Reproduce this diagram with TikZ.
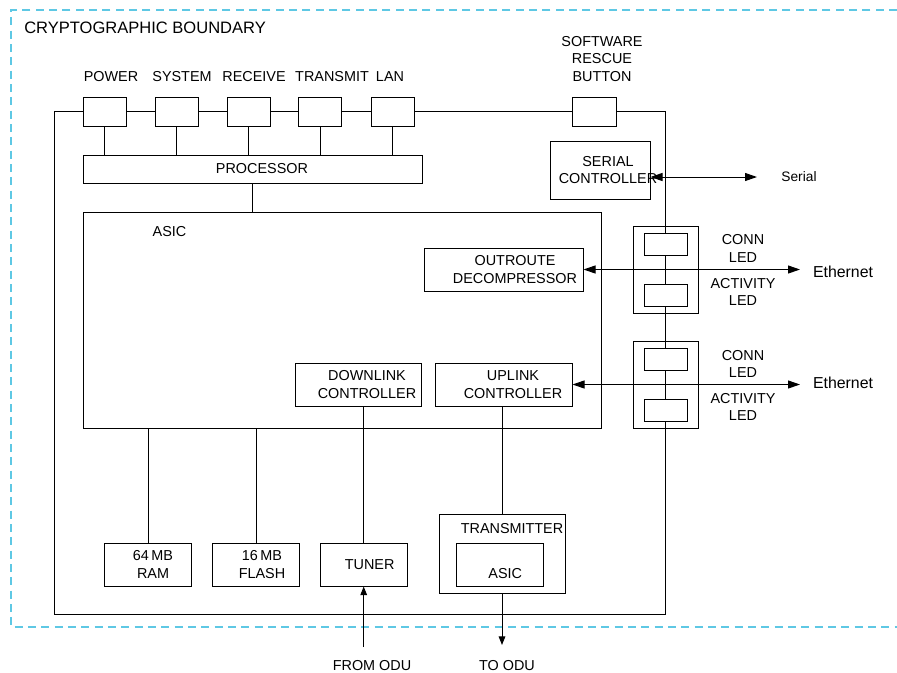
\documentclass[tikz,border=0pt]{standalone}
\usepackage{fontspec}
\setmainfont{Liberation Sans}
\usepackage{tikz}
\usetikzlibrary{arrows.meta,calc}
\definecolor{bndcyan}{RGB}{94,200,228}
\newlength{\px}\setlength{\px}{0.75pt}
\tikzstyle{blk}=[draw, rectangle, inner sep=0pt, line width=0.75pt]
\tikzstyle{wblk}=[blk, fill=white]
\tikzstyle{txt}=[font=\fontsize{10.8}{13}\selectfont, align=center, inner sep=0pt]
\tikzstyle{lnk}=[line width=0.75pt]
\tikzstyle{harr}=[line width=0.75pt, {Triangle[length=9pt,width=6pt]}-{Triangle[length=9pt,width=6pt]}]
\tikzstyle{varr}=[line width=0.75pt, -{Triangle[length=6.5pt,width=5pt]}]
\tikzstyle{bound}=[dash pattern=on 6pt off 4pt, draw=bndcyan, line width=1pt]

\begin{document}
\begin{tikzpicture}[x=0.75pt,y=-0.75pt]
\useasboundingbox (0,0) rectangle (897,672);
% boundary
\draw[bound] (897,10) -| (11,627) -- (897,627);
\node[txt, font=\fontsize{12.4}{15}\selectfont, anchor=west] (title) at (24,28) {CRYPTOGRAPHIC BOUNDARY};

% front panel leds
\node[blk, minimum width=43\px, minimum height=29\px] (pwr) at (104.5,111.5) {};
\node[blk, minimum width=43\px, minimum height=29\px] (sys) at (176.5,111.5) {};
\node[blk, minimum width=43\px, minimum height=29\px] (rcv) at (248.5,111.5) {};
\node[blk, minimum width=43\px, minimum height=29\px] (xmt) at (320,111.5) {};
\node[blk, minimum width=43\px, minimum height=29\px] (lan) at (392.5,111.5) {};
\node[blk, minimum width=44\px, minimum height=29\px] (rsq) at (594,111.5) {};
\node[txt] (pwrlbl) at (111,77) {POWER};
\node[txt] (syslbl) at (182,77) {SYSTEM};
\node[txt] (rcvlbl) at (254,77) {RECEIVE};
\node[txt] (xmtlbl) at (332,77) {TRANSMIT};
\node[txt] (lanlbl) at (390,77) {LAN};
\node[txt] (rsqlbl) at (602,59) {SOFTWARE\\RESCUE\\BUTTON};

% chassis outline
\coordinate (ctl) at (54,111.5);
\coordinate (cbr) at (665,614);
\draw[lnk] (pwr.west) -- (ctl) |- (cbr) |- (rsq.east);
\draw[lnk] (pwr.east) -- (sys.west);
\draw[lnk] (sys.east) -- (rcv.west);
\draw[lnk] (rcv.east) -- (xmt.west);
\draw[lnk] (xmt.east) -- (lan.west);
\draw[lnk] (lan.east) -- (rsq.west);

% processor and asic
\node[blk, minimum width=339\px, minimum height=28\px,
  label={[txt,xshift=9.5\px]center:PROCESSOR}] (proc) at (252.5,169) {};
\foreach \led in {pwr,sys,rcv,xmt,lan}
  \draw[lnk] (\led.south) -- (\led.south |- proc.north);
\node[blk, minimum width=518\px, minimum height=216\px] (asic) at (342,320) {};
\node[txt] (asiclbl) at (169.5,232) {ASIC};
\draw[lnk] (proc.south) -- (proc.south |- asic.north);

\node[blk, minimum width=159\px, minimum height=43\px,
  label={[txt,xshift=11.5\px]center:OUTROUTE\\DECOMPRESSOR}] (outr) at (503.5,269.5) {};
\node[blk, minimum width=126\px, minimum height=43\px,
  label={[txt,xshift=9\px]center:DOWNLINK\\CONTROLLER}] (dl) at (358,384.5) {};
\node[blk, minimum width=137\px, minimum height=43\px,
  label={[txt,xshift=9.5\px]center:UPLINK\\CONTROLLER}] (ul) at (503.5,384.5) {};

% serial
\node[blk, minimum width=100\px, minimum height=58\px,
  label={[txt,xshift=8\px]center:SERIAL\\CONTROLLER}] (ser) at (600,170) {};
\coordinate (serend) at (757,177);
\node[txt, font=\fontsize{10.3}{12}\selectfont] (serlbl) at (799,177) {Serial};
\draw[harr] (ser.east |- serend) -- (serend);

% ethernet ports
\node[blk, minimum width=65\px, minimum height=87\px] (eth1) at (665.5,269.5) {};
\node[blk, minimum width=65\px, minimum height=87\px] (eth2) at (665.5,384.5) {};
\node[wblk, minimum width=43\px, minimum height=22\px] (conn1) at (665.5,244.5) {};
\node[wblk, minimum width=43\px, minimum height=22\px] (act1) at (665.5,295) {};
\node[wblk, minimum width=43\px, minimum height=22\px] (conn2) at (665.5,359.5) {};
\node[wblk, minimum width=43\px, minimum height=22\px] (act2) at (665.5,410) {};
\node[txt] (conn1lbl) at (743,248.5) {CONN\\LED};
\node[txt] (act1lbl) at (743,292) {ACTIVITY\\LED};
\node[txt] (conn2lbl) at (743,364) {CONN\\LED};
\node[txt] (act2lbl) at (743,407) {ACTIVITY\\LED};
\coordinate (eth1end) at (800,269.5);
\coordinate (eth2end) at (800,384.5);
\node[txt, font=\fontsize{11.9}{14}\selectfont] (eth1lbl) at (843,272) {Ethernet};
\node[txt, font=\fontsize{11.9}{14}\selectfont] (eth2lbl) at (843,383) {Ethernet};
\draw[harr] (outr.east) -- (eth1end);
\draw[harr] (ul.east) -- (eth2end);

% memory, tuner, transmitter
\node[blk, minimum width=87\px, minimum height=43\px,
  label={[txt,xshift=5\px]center:64\,MB\\RAM}] (ram) at (148,564.5) {};
\node[blk, minimum width=87\px, minimum height=43\px,
  label={[txt,xshift=6\px]center:16\,MB\\FLASH}] (flash) at (256,564.5) {};
\node[blk, minimum width=87\px, minimum height=43\px,
  label={[txt,xshift=6\px]center:TUNER}] (tun) at (363.7,564.5) {};
\node[blk, minimum width=126\px, minimum height=79\px,
  label={[txt,xshift=10\px,yshift=24.5\px]center:TRANSMITTER}] (txm) at (502,553.5) {};
\node[blk, minimum width=87\px, minimum height=43\px,
  label={[txt,xshift=5\px,yshift=-9.5\px]center:ASIC}] (txasic) at (500.2,564.5) {};
\draw[lnk] (ram.north) -- (ram.north |- asic.south);
\draw[lnk] (flash.north) -- (flash.north |- asic.south);
\draw[lnk] (tun.north) -- (tun.north |- dl.south);
\draw[lnk] (txm.north) -- (txm.north |- ul.south);

% odu links
\coordinate (fromodu) at (363.7,647);
\coordinate (toodu) at (502,645);
\draw[varr] (fromodu) -- (tun.south);
\draw[varr] (txm.south) -- (toodu);
\node[txt] (fromlbl) at (372,666) {FROM ODU};
\node[txt] (tolbl) at (507,666) {TO ODU};
\end{tikzpicture}
\end{document}
